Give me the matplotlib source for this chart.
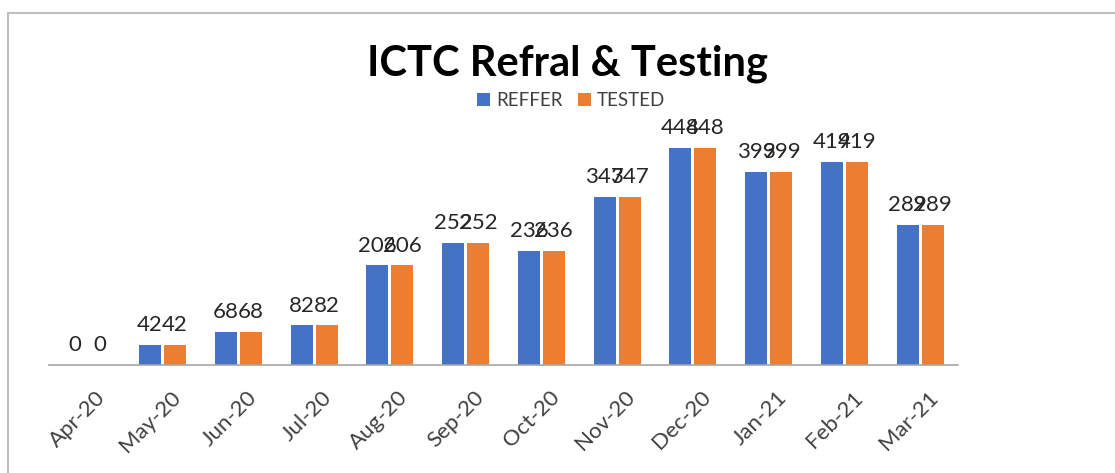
import numpy as np
import matplotlib
matplotlib.use('Agg')
import matplotlib.pyplot as plt
import matplotlib.transforms as mtransforms
from matplotlib.lines import Line2D

plt.rcParams['font.family'] = ['Lato', 'DejaVu Sans']

months = ['Apr-20', 'May-20', 'Jun-20', 'Jul-20', 'Aug-20', 'Sep-20',
          'Oct-20', 'Nov-20', 'Dec-20', 'Jan-21', 'Feb-21', 'Mar-21']
reffer = [0, 42, 68, 82, 206, 252, 236, 347, 448, 399, 419, 289]
tested = [0, 42, 68, 82, 206, 252, 236, 347, 448, 399, 419, 289]

BLUE = '#4472C4'
ORANGE = '#ED7D31'

fig = plt.figure(figsize=(11.15, 4.73), dpi=100)
# axes: x 49..958 px, baseline at y=365, top ~ 123
ax = fig.add_axes([49/1115, 1 - 365/473, (958-49)/1115, (365-123)/473])

x = np.arange(len(months))
w = 0.29
b1 = ax.bar(x - 0.165, reffer, w, color=BLUE, label='REFFER')
b2 = ax.bar(x + 0.165, tested, w, color=ORANGE, label='TESTED')
ax.bar_label(b1, padding=7, fontsize=16, color='#262626')
ax.bar_label(b2, padding=7, fontsize=16, color='#262626')

ax.set_xlim(-0.5, len(months) - 0.5)
ax.set_ylim(0, 500)
ax.set_yticks([])
for s in ['top', 'right', 'left']:
    ax.spines[s].set_visible(False)
ax.spines['bottom'].set_color('#A6A6A6')
ax.spines['bottom'].set_linewidth(1.2)
ax.set_xticks(x)
ax.set_xticklabels(months, rotation=45, ha='right', rotation_mode='anchor',
                   fontsize=16, color='#404040')
ax.tick_params(axis='x', length=0, pad=16)
shift = mtransforms.ScaledTranslation(8/100, 0, fig.dpi_scale_trans)
for lb in ax.get_xticklabels():
    lb.set_transform(lb.get_transform() + shift)

fig.text(0.509, 0.866, 'ICTC Refral & Testing', ha='center', va='center',
         fontsize=30, fontweight='bold', color='black')
fig.legend(handles=[b1, b2], loc='center', bbox_to_anchor=(0.512, 0.787),
           ncol=2, frameon=False, fontsize=13.5, handlelength=0.7,
           handleheight=0.7, handletextpad=0.3, columnspacing=0.8,
           labelcolor='#404040')

# chart area border (top and left visible)
fig.add_artist(Line2D([8/1115, 8/1115], [0, 1 - 13/473], color='#BFBFBF', lw=1.5,
                      transform=fig.transFigure))
fig.add_artist(Line2D([8/1115, 1], [1 - 13/473, 1 - 13/473], color='#BFBFBF', lw=1.5,
                      transform=fig.transFigure))

fig.savefig('out.png', dpi=100)
